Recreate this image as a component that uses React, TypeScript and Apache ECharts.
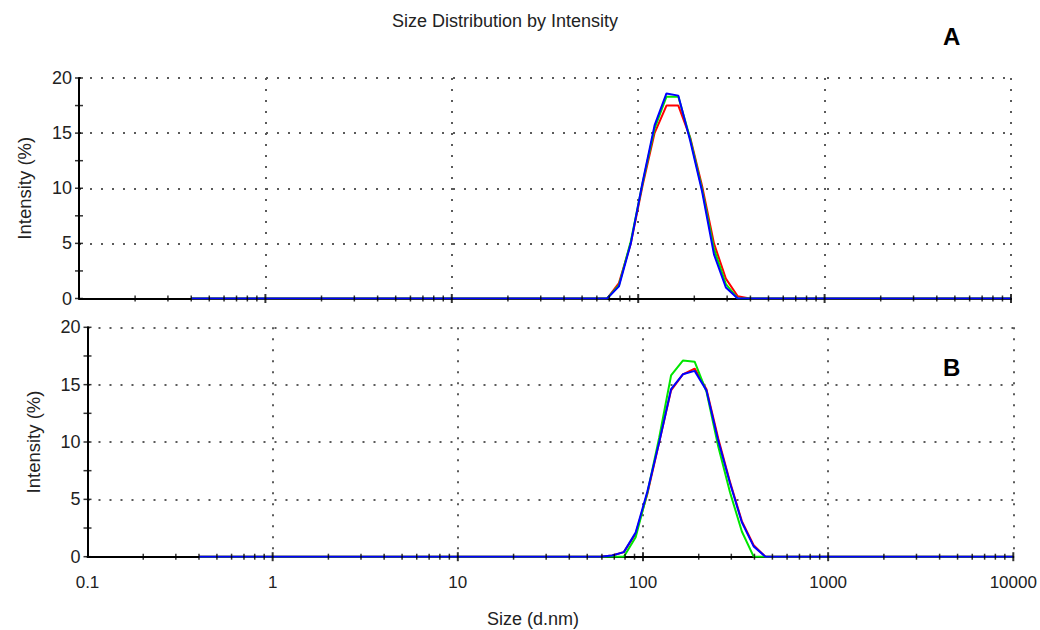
import React, { useEffect, useRef } from "react";
import * as echarts from "echarts";

// Size bins (d.nm) of the instrument
const sizeBins = [
  0.4, 0.4632, 0.5365, 0.6213, 0.7195, 0.8332, 0.9649, 1.117, 1.294, 1.499,
  1.736, 2.01, 2.328, 2.696, 3.122, 3.615, 4.187, 4.849, 5.615, 6.503,
  7.531, 8.721, 10.1, 11.7, 13.54, 15.69, 18.17, 21.04, 24.36, 28.21,
  32.67, 37.84, 43.82, 50.75, 58.77, 68.06, 78.82, 91.28, 105.7, 122.4,
  141.8, 164.2, 190.1, 220.2, 255.0, 295.3, 342.0, 396.1, 458.7, 531.2,
  615.1, 712.4, 825.0, 955.4, 1106, 1281, 1484, 1718, 1990, 2305,
  2669, 3091, 3580, 4145, 4801, 5560, 6439, 7456, 8635, 10000,
];

// Panel A intensities (%)
const aRed = [
  0, 0, 0, 0, 0, 0, 0, 0, 0, 0,
  0, 0, 0, 0, 0, 0, 0, 0, 0, 0,
  0, 0, 0, 0, 0, 0, 0, 0, 0, 0,
  0, 0, 0, 0, 0, 0, 1.4, 5.0, 10.3, 15.0,
  17.5, 17.5, 14.6, 10.2, 5.0, 1.8, 0.2, 0, 0, 0,
  0, 0, 0, 0, 0, 0, 0, 0, 0, 0,
  0, 0, 0, 0, 0, 0, 0, 0, 0, 0,
];
const aGreen = [
  0, 0, 0, 0, 0, 0, 0, 0, 0, 0,
  0, 0, 0, 0, 0, 0, 0, 0, 0, 0,
  0, 0, 0, 0, 0, 0, 0, 0, 0, 0,
  0, 0, 0, 0, 0, 0, 1.2, 5.2, 10.5, 15.4,
  18.3, 18.3, 14.5, 9.9, 4.5, 1.3, 0, 0, 0, 0,
  0, 0, 0, 0, 0, 0, 0, 0, 0, 0,
  0, 0, 0, 0, 0, 0, 0, 0, 0, 0,
];
const aBlue = [
  0, 0, 0, 0, 0, 0, 0, 0, 0, 0,
  0, 0, 0, 0, 0, 0, 0, 0, 0, 0,
  0, 0, 0, 0, 0, 0, 0, 0, 0, 0,
  0, 0, 0, 0, 0, 0, 1.1, 5.0, 10.6, 15.7,
  18.6, 18.4, 14.3, 9.7, 4.0, 1.0, 0, 0, 0, 0,
  0, 0, 0, 0, 0, 0, 0, 0, 0, 0,
  0, 0, 0, 0, 0, 0, 0, 0, 0, 0,
];

// Panel B intensities (%)
const bRed = [
  0, 0, 0, 0, 0, 0, 0, 0, 0, 0,
  0, 0, 0, 0, 0, 0, 0, 0, 0, 0,
  0, 0, 0, 0, 0, 0, 0, 0, 0, 0,
  0, 0, 0, 0, 0, 0.1, 0.4, 2.0, 5.5, 10.0,
  14.5, 15.9, 16.4, 14.6, 10.3, 6.5, 3.1, 1.0, 0, 0,
  0, 0, 0, 0, 0, 0, 0, 0, 0, 0,
  0, 0, 0, 0, 0, 0, 0, 0, 0, 0,
];
const bGreen = [
  0, 0, 0, 0, 0, 0, 0, 0, 0, 0,
  0, 0, 0, 0, 0, 0, 0, 0, 0, 0,
  0, 0, 0, 0, 0, 0, 0, 0, 0, 0,
  0, 0, 0, 0, 0, 0, 0, 1.7, 5.6, 10.4,
  15.8, 17.1, 17.0, 14.4, 9.6, 5.6, 2.2, 0, 0, 0,
  0, 0, 0, 0, 0, 0, 0, 0, 0, 0,
  0, 0, 0, 0, 0, 0, 0, 0, 0, 0,
];
const bBlue = [
  0, 0, 0, 0, 0, 0, 0, 0, 0, 0,
  0, 0, 0, 0, 0, 0, 0, 0, 0, 0,
  0, 0, 0, 0, 0, 0, 0, 0, 0, 0,
  0, 0, 0, 0, 0, 0.1, 0.4, 2.1, 5.7, 10.0,
  14.6, 15.9, 16.2, 14.5, 10.1, 6.4, 3.0, 0.9, 0, 0,
  0, 0, 0, 0, 0, 0, 0, 0, 0, 0,
  0, 0, 0, 0, 0, 0, 0, 0, 0, 0,
];

// Axis tick positions
const decades = [0.1, 1, 10, 100, 1000];
const minorMultipliers = [2, 3, 4, 5, 6, 7, 8, 9];
const majorTickSizes = [1, 10, 100, 1000, 10000];
const yTickValues = [0, 2.5, 5, 7.5, 10, 12.5, 15, 17.5, 20];

const titleText = "Size Distribution by Intensity";
const xName = "Size (d.nm)";
const yName = "Intensity (%)";
const panelLabels = ["A", "B"];

const FONT = "'Liberation Sans', Arial, Helvetica, sans-serif";
const TEXT = "#222";
const DOT = { color: "#5a5a5a", width: 2, type: [2, 9] as number[] };

export default function App() {
  const ref = useRef<HTMLDivElement>(null);

  useEffect(() => {
    if (!ref.current) return;
    const chart = echarts.init(ref.current, null, { renderer: "svg" });

    const grids = [
      { left: 79, top: 78, width: 932, height: 220.5 },
      { left: 87.5, top: 327.3, width: 925.8, height: 229.4 },
    ];
    const panels = [
      [aRed, aGreen, aBlue],
      [bRed, bGreen, bBlue],
    ];
    const colors = ["#ff0000", "#00e600", "#0000ff"];
    const minorTicks = decades.flatMap((d) => minorMultipliers.map((m) => Number((d * m).toPrecision(3))));

    const xAxis = grids.map((_, i) => ({
      type: "log",
      logBase: 10,
      gridIndex: i,
      min: 0.1,
      max: 10000,
      splitNumber: 5,
      axisLine: { show: true, onZero: false, lineStyle: { color: "#000", width: 2 } },
      axisTick: { show: false },
      axisLabel: {
        show: i === 1,
        color: TEXT,
        fontSize: 17,
        fontFamily: FONT,
        margin: 17,
        formatter: (v: number) => String(Number(v.toPrecision(2))),
      },
      splitLine: { show: true, lineStyle: DOT },
    }));

    const yAxis = grids.map((_, i) => ({
      type: "value",
      gridIndex: i,
      min: 0,
      max: 20,
      interval: 5,
      axisLine: { show: true, lineStyle: { color: "#000", width: 2 } },
      axisTick: { show: false },
      axisLabel: { color: TEXT, fontSize: 18, fontFamily: FONT, margin: 7 },
      splitLine: { show: true, lineStyle: DOT },
      name: yName,
      nameLocation: "middle",
      nameRotate: 90,
      nameGap: 45,
      nameTextStyle: { color: TEXT, fontSize: 18.5, fontFamily: FONT },
    }));

    const series: any[] = [];
    panels.forEach((sets, p) => {
      sets.forEach((vals, c) => {
        series.push({
          type: "line",
          xAxisIndex: p,
          yAxisIndex: p,
          data: sizeBins.map((s, k) => [s, vals[k]]),
          symbol: "none",
          showSymbol: false,
          silent: true,
          lineStyle: { color: colors[c], width: 2 },
          itemStyle: { color: colors[c] },
          z: 3 + c,
        });
      });
      series.push({
        type: "scatter",
        xAxisIndex: p,
        yAxisIndex: p,
        data: minorTicks.map((s) => [s, 0]),
        symbol: "rect",
        symbolSize: [1.5, 6],
        itemStyle: { color: "#000" },
        silent: true,
        clip: false,
        z: 10,
      });
      series.push({
        type: "scatter",
        xAxisIndex: p,
        yAxisIndex: p,
        data: majorTickSizes.map((s) => [s, 0]),
        symbol: "rect",
        symbolSize: [2, 9],
        itemStyle: { color: "#000" },
        silent: true,
        clip: false,
        z: 10,
      });
      series.push({
        type: "scatter",
        xAxisIndex: p,
        yAxisIndex: p,
        data: yTickValues.map((v) => [0.1, v]),
        symbol: "rect",
        symbolSize: [8, 1.5],
        itemStyle: { color: "#000" },
        silent: true,
        clip: false,
        z: 10,
      });
    });

    chart.setOption({
      animation: false,
      backgroundColor: "#fff",
      grid: grids,
      xAxis,
      yAxis,
      series,
      graphic: [
        {
          type: "text",
          left: 392,
          top: 12,
          style: { text: titleText, fill: TEXT, font: `18px ${FONT}` },
        },
        {
          type: "text",
          left: 943,
          top: 24,
          style: { text: panelLabels[0], fill: "#000", font: `bold 24px ${FONT}` },
        },
        {
          type: "text",
          left: 943,
          top: 355,
          style: { text: panelLabels[1], fill: "#000", font: `bold 24px ${FONT}` },
        },
        {
          type: "text",
          left: 487,
          top: 610,
          style: { text: xName, fill: TEXT, font: `18px ${FONT}` },
        },
      ],
    });

    return () => chart.dispose();
  }, []);

  return (
    <div
      ref={ref}
      style={{ position: "fixed", left: 0, top: 0, width: 1040, height: 630, background: "#fff" }}
    />
  );
}
